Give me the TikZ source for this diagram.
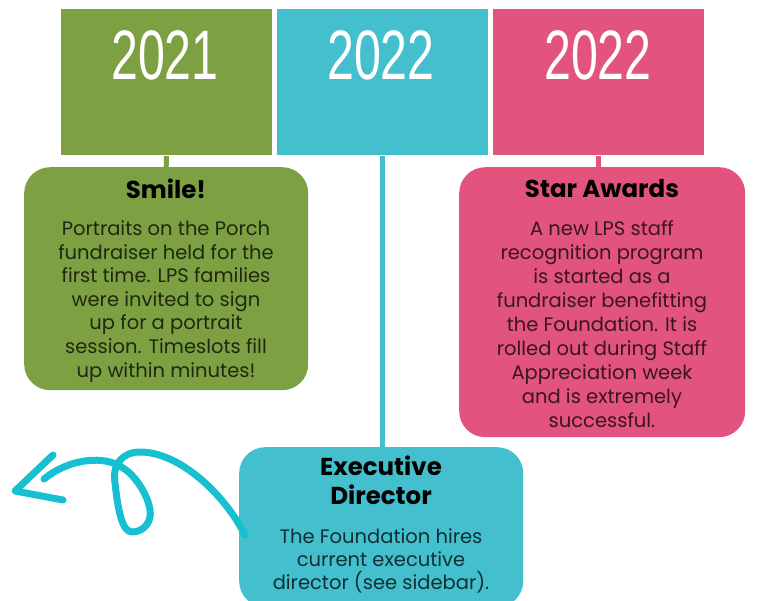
\documentclass[tikz,border=0pt]{standalone}
\usepackage{fontspec}
\setmainfont{Poppins}
\newfontfamily\yearfont{Liberation Sans}
\definecolor{cgreen}{HTML}{7CA042}
\definecolor{ccyan}{HTML}{44BFCE}
\definecolor{cpink}{HTML}{E2547E}
\definecolor{carrow}{HTML}{17C0D0}
\tikzset{
  yearbox/.style={draw=white, line width=1pt, inner sep=0pt, anchor=north west},
  yeartext/.style={inner sep=0pt, text=white, font=\yearfont\fontsize{70}{70}\selectfont},
  eventbox/.style={rounded corners=26pt, inner sep=0pt, anchor=north west},
  stem/.style={line width=5pt},
  ttl/.style={inner sep=0pt, anchor=base, font=\bfseries\fontsize{24.5}{29}\selectfont, align=center, text=black},
  body/.style={inner sep=0pt, anchor=base, font=\fontsize{19.5}{23.6}\selectfont, align=center, text=black, text opacity=0.75},
}
\begin{document}
\begin{tikzpicture}[x=1pt,y=-1pt]
\useasboundingbox (0,0) rectangle (758,600);
\clip (0,0) rectangle (758,600);
% year boxes
\node[yearbox, fill=cgreen, minimum width=212pt, minimum height=147pt] (y1) at (60,8) {};
\node[yearbox, fill=ccyan, minimum width=212pt, minimum height=147pt] (y2) at (276,8) {};
\node[yearbox, fill=cpink, minimum width=212pt, minimum height=147pt] (y3) at (492,8) {};
\node[yeartext] (t1) at (165,55) {\scalebox{0.69}[1]{2021}};
\node[yeartext] (t2) at (381,55) {\scalebox{0.69}[1]{2022}};
\node[yeartext] (t3) at (598,55) {\scalebox{0.69}[1]{2022}};
% event boxes
\node[eventbox, fill=cgreen, minimum width=284pt, minimum height=223pt] (smile) at (24,167) {};
\node[eventbox, fill=cpink, minimum width=286pt, minimum height=270pt] (star) at (459,167) {};
\node[eventbox, fill=ccyan, minimum width=284pt, minimum height=160pt] (exec) at (239,447) {};
% stems
\draw[stem, cgreen] (y1.south) -- (smile.north);
\draw[stem, ccyan] (y2.south) -- (y2.south |- exec.north);
\draw[stem, cpink] (y3.south) -- (y3.south |- star.north);
% texts (anchor=base: baseline of the last line)
\node[ttl] (smilet) at (166,198) {Smile!};
\node[body] (smileb) at (166,377) {Portraits on the Porch\\fundraiser held for the\\first time. LPS families\\were invited to sign\\up for a portrait\\session. Timeslots fill\\up within minutes!};
\node[ttl] (start) at (602,197) {Star Awards};
\node[body, font=\fontsize{19.5}{23.9}\selectfont] (starb) at (602,427) {A new LPS staff\\recognition program\\is started as a\\fundraiser benefitting\\the Foundation. It is\\rolled out during Staff\\Appreciation week\\and is extremely\\successful.};
\node[ttl] (exect) at (381,504) {Executive\\Director};
\node[body, font=\fontsize{19.5}{23}\selectfont] (execb) at (381,589) {The Foundation hires\\current executive\\director (see sidebar).};
% curly arrow
\coordinate (s) at (245,535);
\coordinate (tip) at (15,491);
\coordinate (ba) at (53,455);
\coordinate (bb) at (63,500);
\draw[carrow, line width=7pt, line cap=round, line join=round]
  (s) .. controls (225,495) and (180,452) .. (140,452)
      .. controls (122,452) and (112,465) .. (115,483)
      .. controls (118,510) and (122,532) .. (132,532)
      .. controls (145,532) and (152,520) .. (150,510)
      .. controls (148,495) and (135,475) .. (123,468)
      .. controls (105,455) and (70,458) .. (44,479);
\draw[carrow, line width=7pt, line cap=round, line join=round] (ba) -- (tip) -- (bb);
\end{tikzpicture}
\end{document}
